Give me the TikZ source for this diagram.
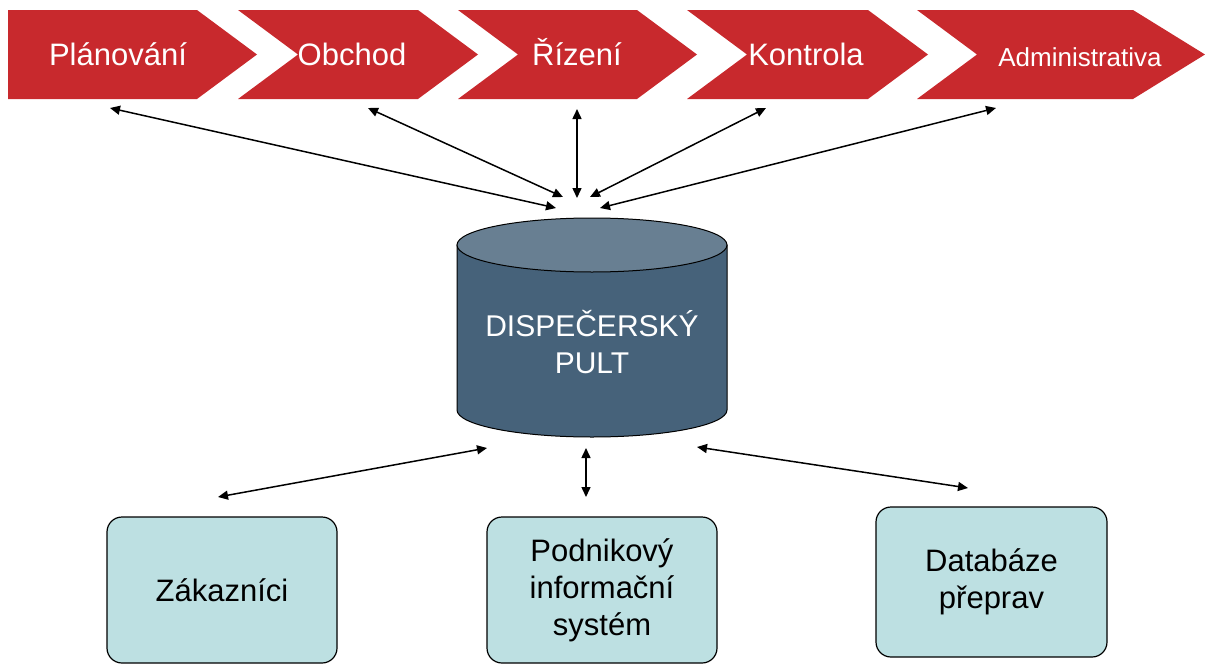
\documentclass[tikz,border=0pt]{standalone}
\usepackage{fontspec}
\setmainfont{Liberation Sans}
\usetikzlibrary{arrows.meta,positioning,calc}
\definecolor{chevred}{HTML}{C8292D}
\definecolor{pultbody}{HTML}{46627A}
\definecolor{pulttop}{HTML}{687F92}
\definecolor{unitfill}{HTML}{BDE0E2}
\tikzset{
  chevron/.style={fill=chevred, draw=none},
  chevtext/.style={text=white, anchor=base, inner sep=0pt,
                   font=\fontsize{15.5}{18}\selectfont},
  unit/.style={draw=black, fill=unitfill, rounded corners=7.5pt, line width=0.6pt,
               align=center, inner sep=0pt, minimum width=115pt, minimum height=73pt,
               font=\fontsize{15.5}{18.5}\selectfont},
  link/.style={{Triangle[length=5pt,width=4.5pt]}-{Triangle[length=5pt,width=4.5pt]},
               line width=0.75pt, draw=black}
}

\begin{document}
\begin{tikzpicture}[x=0.5pt,y=-0.5pt]
    \useasboundingbox (0,0) rectangle (1205,664);

    % process chevrons
    \fill[chevron] (8,10) -- (197,10) -- (257,54.5) -- (197,99) -- (8,99) -- cycle;
    \fill[chevron] (238,10) -- (418,10) -- (478,54.5) -- (418,99) -- (238,99) -- (298,54.5) -- cycle;
    \fill[chevron] (458,10) -- (637,10) -- (697,54.5) -- (637,99) -- (458,99) -- (518,54.5) -- cycle;
    \fill[chevron] (687,10) -- (868,10) -- (928,54.5) -- (868,99) -- (687,99) -- (747,54.5) -- cycle;
    \fill[chevron] (917,10) -- (1133,10) -- (1205,54.5) -- (1133,99) -- (917,99) -- (977,54.5) -- cycle;
    \node[chevtext] (plan) at (118,65) {Plánování};
    \node[chevtext] (obchod) at (352,65) {Obchod};
    \node[chevtext] (rizeni) at (577,65) {Řízení};
    \node[chevtext] (kontrola) at (806,65) {Kontrola};
    \node[chevtext,font=\fontsize{13}{16}\selectfont] (admin) at (1080,66) {Administrativa};

    % dispatch desk
    \filldraw[fill=pultbody,draw=black,line width=0.5pt]
      (457,245) -- (457,410) arc[start angle=180,end angle=360,x radius=67.5pt,y radius=13.5pt]
      -- (727,245) -- cycle;
    \filldraw[fill=pulttop,draw=black,line width=0.5pt] (592,245) ellipse[x radius=67.5pt,y radius=13.5pt];
    \node[text=white,align=center,inner sep=0pt,font=\fontsize{15}{18.5}\selectfont] (pult) at (592,342)
      {DISPEČERSKÝ\\PULT};

    % systems
    \node[unit] (zak) at (222,590) {Zákazníci};
    \node[unit] (pis) at (602,590) {Podnikový\\informační\\systém};
    \node[unit,minimum height=75pt,minimum width=115.5pt] (dbp) at (991.5,582) {Databáze\\přeprav};

    % arrow ends
    \coordinate (plan-a) at (110,108);   \coordinate (plan-b) at (556,208);
    \coordinate (obchod-a) at (368,108); \coordinate (obchod-b) at (563,197);
    \coordinate (rizeni-a) at (577,109); \coordinate (rizeni-b) at (577,198);
    \coordinate (kontrola-a) at (766,108); \coordinate (kontrola-b) at (590,197);
    \coordinate (admin-a) at (996,108);  \coordinate (admin-b) at (600,208);
    \coordinate (zak-a) at (218,497);    \coordinate (zak-b) at (487,448);
    \coordinate (pis-a) at (586,497);    \coordinate (pis-b) at (586,448);
    \coordinate (dbp-a) at (968,488);    \coordinate (dbp-b) at (697,447);

    \draw[link] (plan-a) -- (plan-b);
    \draw[link] (obchod-a) -- (obchod-b);
    \draw[link] (rizeni-a) -- (rizeni-b);
    \draw[link] (kontrola-a) -- (kontrola-b);
    \draw[link] (admin-a) -- (admin-b);
    \draw[link] (zak-a) -- (zak-b);
    \draw[link] (pis-a) -- (pis-b);
    \draw[link] (dbp-a) -- (dbp-b);
\end{tikzpicture}
\end{document}
